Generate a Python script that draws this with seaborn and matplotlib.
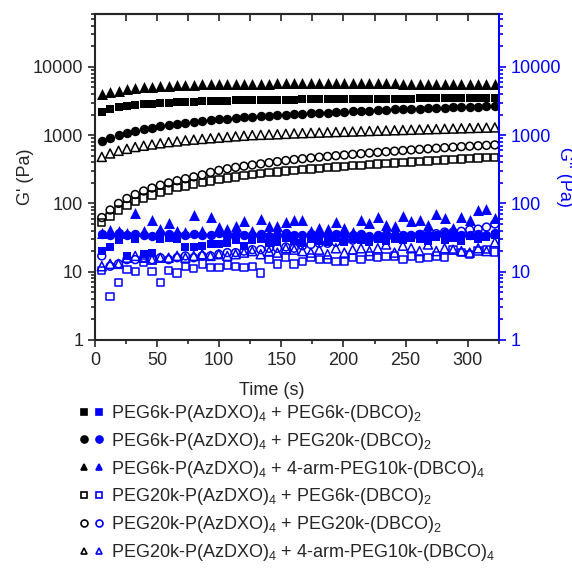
import matplotlib
matplotlib.use("Agg")
import matplotlib.pyplot as plt
from matplotlib.lines import Line2D
from matplotlib.legend_handler import HandlerTuple
from matplotlib.ticker import MultipleLocator, LogLocator, NullFormatter
import numpy as np
import seaborn as sns

sns.set_style("ticks")
plt.rcParams['font.family'] = ['Liberation Sans', 'DejaVu Sans']
plt.rcParams['mathtext.fontset'] = 'custom'
plt.rcParams['mathtext.rm'] = 'Liberation Sans'
plt.rcParams['mathtext.default'] = 'regular'

time = [5.5, 12.2, 19.0, 25.7, 32.4, 39.2, 45.9, 52.6, 59.3, 66.1, 72.8, 79.5,
        86.3, 93.0, 99.7, 106.5, 113.2, 119.9, 126.6, 133.4, 140.1, 146.8, 153.6, 160.3,
        167.0, 173.8, 180.5, 187.2, 193.9, 200.7, 207.4, 214.1, 220.9, 227.6, 234.3, 241.1,
        247.8, 254.5, 261.2, 268.0, 274.7, 281.4, 288.2, 294.9, 301.6, 308.4, 315.1, 321.8]

# storage modulus G' (black)
g1_6k_6k = [2200, 2400, 2550, 2650, 2750, 2830, 2900, 2950, 3000, 3050, 3080, 3110,
            3140, 3170, 3200, 3220, 3240, 3260, 3280, 3290, 3300, 3310, 3320, 3330,
            3340, 3350, 3360, 3370, 3380, 3390, 3400, 3410, 3420, 3420, 3430, 3430,
            3440, 3440, 3450, 3450, 3460, 3460, 3470, 3470, 3480, 3480, 3490, 3500]
g1_6k_20k = [830, 920, 1000, 1080, 1150, 1220, 1290, 1350, 1410, 1470, 1520, 1570,
             1620, 1670, 1710, 1750, 1790, 1830, 1870, 1900, 1940, 1970, 2000, 2030,
             2060, 2090, 2120, 2150, 2180, 2210, 2240, 2270, 2300, 2320, 2350, 2380,
             2400, 2430, 2450, 2480, 2500, 2520, 2550, 2570, 2600, 2620, 2640, 2660]
g1_6k_4arm = [4000, 4300, 4500, 4700, 4850, 5000, 5100, 5200, 5300, 5400, 5450, 5500,
              5550, 5600, 5620, 5650, 5680, 5700, 5700, 5720, 5720, 5740, 5740, 5750,
              5750, 5750, 5760, 5760, 5760, 5760, 5750, 5750, 5750, 5740, 5740, 5730,
              5720, 5720, 5700, 5700, 5680, 5670, 5650, 5640, 5620, 5600, 5580, 5560]
g1_20k_6k = [52, 64, 80, 93, 106, 120, 133, 146, 158, 170, 181, 192,
             203, 214, 225, 235, 245, 254, 263, 272, 281, 290, 299, 307,
             314, 321, 328, 335, 342, 349, 356, 363, 370, 377, 384, 391,
             398, 405, 412, 419, 426, 433, 440, 447, 454, 461, 468, 475]
g1_20k_20k = [62, 80, 100, 118, 135, 152, 168, 185, 200, 215, 230, 245,
              262, 285, 305, 322, 338, 352, 366, 380, 395, 410, 425, 440,
              452, 464, 476, 488, 500, 512, 524, 536, 548, 560, 572, 584,
              596, 608, 620, 632, 644, 656, 668, 680, 690, 700, 710, 720]
g1_20k_4arm = [480, 540, 590, 630, 670, 700, 730, 760, 790, 810, 840, 860,
               880, 900, 920, 940, 960, 980, 1000, 1010, 1020, 1030, 1045, 1060,
               1070, 1080, 1090, 1100, 1110, 1120, 1130, 1140, 1150, 1160, 1170, 1180,
               1190, 1200, 1210, 1220, 1230, 1240, 1250, 1260, 1270, 1280, 1290, 1300]

# loss modulus G'' (blue)
g2_6k_6k = [20, 23, 29, 17, 30, 18, 19, 30, 31, 30, 23, 23,
            24, 25, 25, 26, 29, 24, 29, 30, 26, 27, 31, 28,
            26, 30, 28, 27, 31, 27, 30, 29, 27, 30, 28, 30,
            29, 31, 30, 28, 32, 29, 31, 28, 33, 30, 32, 35]
g2_6k_20k = [36, 35, 37, 34, 36, 35, 33, 37, 36, 34, 35, 36,
             34, 35, 37, 33, 36, 35, 34, 36, 33, 35, 37, 34,
             35, 36, 34, 33, 36, 35, 34, 36, 33, 35, 36, 34,
             35, 33, 36, 34, 35, 37, 33, 35, 34, 36, 35, 37]
g2_6k_4arm = [37, 41, 39, 37, 73, 40, 57, 42, 52, 40, 38, 68,
              40, 63, 45, 42, 46, 56, 40, 60, 47, 47, 54, 57,
              57, 40, 44, 42, 54, 44, 38, 57, 52, 63, 48, 46,
              66, 56, 58, 48, 70, 62, 44, 63, 58, 80, 82, 62]
g2_20k_6k = [10.5, 4.3, 7, 10.8, 10, 13.5, 10, 7, 10.3, 9.6, 12, 11,
             13, 11.5, 11.5, 12.5, 12, 11.5, 12, 9.6, 15, 13, 16, 13,
             14, 16, 15, 15, 14, 14, 16, 15, 17, 16, 16.5, 17,
             15, 17, 15.5, 16, 17, 16, 21, 19, 18, 20, 21, 19.5]
g2_20k_20k = [17, 12, 13, 15, 15, 16, 15, 16, 15, 16, 17, 16,
              17, 17, 18, 19, 19, 20, 21, 21, 22, 22, 23, 22,
              24, 25, 26, 26, 27, 28, 29, 30, 30, 31, 32, 32,
              33, 34, 35, 35, 36, 38, 38, 39, 41, 42, 45, 50]
g2_20k_4arm = [12, 13, 13, 16, 17, 16, 15, 16, 16, 17, 16, 17,
               18, 17, 18, 17, 18, 19, 20, 18, 20, 19, 22, 21,
               20, 19, 21, 18, 22, 19, 21, 22, 20, 22, 25, 19,
               24, 22, 20, 25, 20, 22, 21, 20, 19, 22, 20, 27]

labels = [
    r"PEG6k-P(AzDXO)$_4$ + PEG6k-(DBCO)$_2$",
    r"PEG6k-P(AzDXO)$_4$ + PEG20k-(DBCO)$_2$",
    r"PEG6k-P(AzDXO)$_4$ + 4-arm-PEG10k-(DBCO)$_4$",
    r"PEG20k-P(AzDXO)$_4$ + PEG6k-(DBCO)$_2$",
    r"PEG20k-P(AzDXO)$_4$ + PEG20k-(DBCO)$_2$",
    r"PEG20k-P(AzDXO)$_4$ + 4-arm-PEG10k-(DBCO)$_4$",
]
gp = [g1_6k_6k, g1_6k_20k, g1_6k_4arm, g1_20k_6k, g1_20k_20k, g1_20k_4arm]
gpp = [g2_6k_6k, g2_6k_20k, g2_6k_4arm, g2_20k_6k, g2_20k_20k, g2_20k_4arm]
markers = ['s', 'o', '^', 's', 'o', '^']
filled = [True, True, True, False, False, False]
sizes = [40, 46, 62, 28, 32, 42]

blue = '#0000ff'
fig = plt.figure(figsize=(5.72, 5.78), dpi=100)
ax = fig.add_axes([0.166, 0.412, 0.706, 0.564])

for ys, m, f, s in zip(gp, markers, filled, sizes):
    sns.scatterplot(x=time, y=ys, ax=ax, marker=m, s=s, color='black',
                    facecolor='black' if f else 'none', edgecolor='black',
                    linewidth=0 if f else 1.1)
for ys, m, f, s in zip(gpp, markers, filled, sizes):
    sns.scatterplot(x=time, y=ys, ax=ax, marker=m, s=s, color=blue,
                    facecolor=blue if f else 'none', edgecolor=blue,
                    linewidth=0 if f else 1.1)

ax.set_yscale('log')
ax.set_ylim(1, 6e4)
ax.set_xlim(0, 325)
ax.xaxis.set_major_locator(MultipleLocator(50))
ax.xaxis.set_minor_locator(MultipleLocator(25))
ax.yaxis.set_minor_locator(LogLocator(base=10, subs=np.arange(2, 10), numticks=20))
ax.yaxis.set_minor_formatter(NullFormatter())
ax.set_yticks([1, 10, 100, 1000, 10000])
ax.set_yticklabels(['1', '10', '100', '1000', '10000'])
ax.tick_params(which='both', direction='out', labelsize=13, width=1.2)
ax.tick_params(which='major', length=5)
ax.tick_params(which='minor', length=3)
ax.set_xlabel("Time (s)", fontsize=13)
ax.set_ylabel("G' (Pa)", fontsize=13)
ax.xaxis.set_label_coords(0.438, -0.128)
ax.yaxis.set_label_coords(-0.15, 0.5)
for sp in ['left', 'bottom', 'top']:
    ax.spines[sp].set_linewidth(1.5)
ax.spines['right'].set_visible(False)

top = ax.secondary_xaxis('top')
top.xaxis.set_major_locator(MultipleLocator(50))
top.xaxis.set_minor_locator(MultipleLocator(25))
top.tick_params(which='both', direction='in', labeltop=False, width=1.2)
top.tick_params(which='major', length=5)
top.tick_params(which='minor', length=5)
top.spines['top'].set_linewidth(1.5)

ax2 = ax.twinx()
ax2.set_yscale('log')
ax2.set_ylim(1, 6e4)
ax2.set_yticks([1, 10, 100, 1000, 10000])
ax2.set_yticklabels(['1', '10', '100', '1000', '10000'])
ax2.yaxis.set_minor_locator(LogLocator(base=10, subs=np.arange(2, 10), numticks=20))
ax2.yaxis.set_minor_formatter(NullFormatter())
ax2.tick_params(which='both', direction='out', colors=blue, labelsize=13, width=1.2)
ax2.tick_params(which='major', length=5)
ax2.tick_params(which='minor', length=3)
ax2.spines['right'].set_color(blue)
ax2.spines['right'].set_linewidth(1.5)
for sp in ['left', 'top', 'bottom']:
    ax2.spines[sp].set_visible(False)
ax2.set_ylabel("G'' (Pa)", color=blue, fontsize=13, rotation=270, va='center')
ax2.yaxis.set_label_coords(1.162, 0.5)

handles = []
for m, f in zip(markers, filled):
    hk = Line2D([], [], marker=m, ls='', color='black',
                mfc='black' if f else 'none', mec='black', ms=5, mew=1.2)
    hb = Line2D([], [], marker=m, ls='', color=blue,
                mfc=blue if f else 'none', mec=blue, ms=5, mew=1.2)
    handles.append((hk, hb))

fig.legend(handles, labels, loc='upper left', bbox_to_anchor=(0.138, 0.303),
           frameon=False, fontsize=13, handler_map={tuple: HandlerTuple(ndivide=None, pad=0.3)},
           handlelength=1.35, handletextpad=0.45, labelspacing=0.38, borderpad=0,
           borderaxespad=0)

fig.savefig("out.png", dpi=100)
